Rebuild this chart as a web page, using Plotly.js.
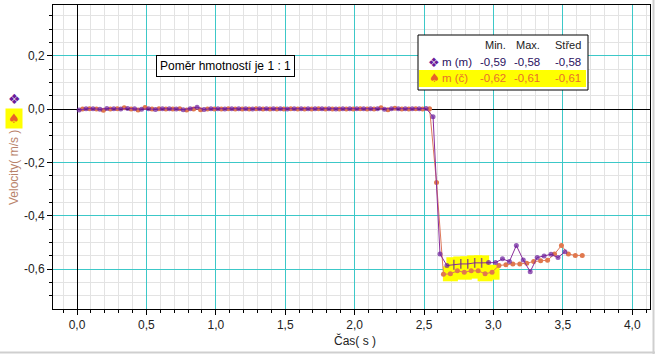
<!DOCTYPE html>
<html>
<head>
<meta charset="utf-8">
<script src="https://cdn.plot.ly/plotly-3.0.1.min.js"></script>
<style>html,body{margin:0;padding:0;background:#fff;}#chart{width:655px;height:354px;}</style>
</head>
<body>
<div id="chart"></div>
<script>
// ---- data ----
const timePurple = [0.015,0.065,0.115,0.165,0.215,0.265,0.315,0.365,0.415,0.465,
  0.515,0.565,0.615,0.665,0.715,0.765,0.815,0.865,0.915,0.965,
  1.015,1.065,1.115,1.165,1.215,1.265,1.315,1.365,1.415,1.465,
  1.515,1.565,1.615,1.665,1.715,1.765,1.815,1.865,1.915,1.965,
  2.015,2.065,2.115,2.165,2.215,2.265,2.315,2.365,2.415,2.465,
  2.515,2.565,2.615,2.665,2.715,2.765,2.815,2.865,2.915,2.965,
  3.015,3.065,3.115,3.165,3.215,3.265,3.315,3.365,3.415,3.465,3.515];
const velPurple = [-0.003,0.002,0.002,0.000,0.003,0.002,0.001,0.003,0.002,0.000,
  0.002,-0.001,0.002,0.002,0.001,-0.002,0.002,0.008,-0.001,0.002,
  0.002,0.001,0.002,0.002,0.002,0.001,0.002,0.002,0.002,0.002,
  0.001,0.002,0.002,0.002,0.002,0.002,0.002,0.001,0.002,0.002,
  0.002,0.002,0.002,0.002,0.000,0.002,0.002,0.002,0.002,0.002,
  0.003,-0.028,-0.543,-0.586,-0.583,-0.580,-0.580,-0.576,-0.576,-0.575,
  -0.575,-0.561,-0.571,-0.511,-0.565,-0.609,-0.556,-0.550,-0.544,-0.556,-0.534];
const timeOrange = [0.04,0.09,0.14,0.19,0.24,0.29,0.34,0.39,0.44,0.49,
  0.54,0.59,0.64,0.69,0.74,0.79,0.84,0.89,0.94,0.99,
  1.04,1.09,1.14,1.19,1.24,1.29,1.34,1.39,1.44,1.49,
  1.54,1.59,1.64,1.69,1.74,1.79,1.84,1.89,1.94,1.99,
  2.04,2.09,2.14,2.19,2.24,2.29,2.34,2.39,2.44,2.49,
  2.54,2.59,2.64,2.69,2.74,2.79,2.84,2.89,2.94,2.99,
  3.04,3.09,3.14,3.19,3.24,3.29,3.34,3.39,3.44,3.49,3.54,3.59,3.64];
const velOrange = [0.001,0.002,0.001,-0.004,0.001,0.002,0.006,0.001,-0.003,0.007,
  0.001,0.002,0.001,0.001,0.002,-0.003,0.001,-0.002,0.001,0.001,
  0.001,0.002,0.001,0.001,0.001,0.002,0.001,0.001,0.001,0.001,
  0.002,0.001,0.001,0.001,0.002,0.001,0.001,0.001,0.001,0.001,
  0.002,0.001,0.001,0.006,-0.002,0.004,0.001,0.001,0.002,0.001,
  0.002,-0.275,-0.619,-0.617,-0.606,-0.611,-0.606,-0.606,-0.617,-0.611,
  -0.586,-0.583,-0.580,-0.580,-0.577,-0.571,-0.568,-0.566,-0.543,-0.511,-0.543,-0.548,-0.548];
// selected (highlighted) sample indices
const selOrange = [53,54,55,56,57,58,59];
const selPurple = [54,55,56,57,58];

const xTickVals = [0,0.5,1,1.5,2,2.5,3,3.5,4];
const xTickText = ['0,0','0,5','1,0','1,5','2,0','2,5','3,0','3,5','4,0'];
const yTickVals = [-0.6,-0.4,-0.2,0,0.2];
const yTickText = ['-0,6','-0,4','-0,2','0,0','0,2'];

const seriesNames = ['m (m)','m (č)'];
const statHeaders = ['Min.','Max.','Střed'];
const statsPurple = ['-0,59','-0,58','-0,58'];
const statsOrange = ['-0,62','-0,61','-0,61'];
const noteText = 'Poměr hmotností je 1 : 1';
const xTitle = 'Čas( s )';
const yTitle = 'Velocity( m/s )';

// ---- styling ----
const PURPLE = '#6a1b9a', PURPLE_LINE = '#8a2c9c';
const ORANGE = '#e0784e', ORANGE_LINE = '#de7a5c';
const YELLOW = '#ffff00';
const FONT = 'Liberation Sans, Arial, sans-serif';

const L = 53, R = 5, T = 5, B = 45, W = 655, H = 354;
const pw = W - L - R, ph = H - T - B;
const px = x => (x - L) / pw;
const py = y => (H - B - y) / ph;

const hlX = selOrange.map(i => timeOrange[i]).concat(selPurple.map(i => timePurple[i]));
const hlY = selOrange.map(i => velOrange[i]).concat(selPurple.map(i => velPurple[i]));

const pSym = timePurple.map((_, i) => selPurple.includes(i) ? 'line-ns-open' : 'circle');
const pSize = timePurple.map((_, i) => selPurple.includes(i) ? 7 : 5);
const pLW = timePurple.map((_, i) => selPurple.includes(i) ? 1.5 : 0);

const traces = [
  {x: hlX, y: hlY, mode: 'markers', type: 'scatter', hoverinfo: 'skip',
   marker: {symbol: 'square', size: 15, color: YELLOW, line: {width: 0}}},
  {x: timeOrange, y: velOrange, mode: 'lines+markers', type: 'scatter', name: seriesNames[1],
   line: {color: ORANGE_LINE, width: 1}, marker: {symbol: 'circle', size: 5, color: ORANGE}},
  {x: timePurple, y: velPurple, mode: 'lines+markers', type: 'scatter', name: seriesNames[0],
   line: {color: PURPLE_LINE, width: 1},
   marker: {symbol: pSym, size: pSize, color: PURPLE, line: {color: '#3a0d5a', width: pLW}}}
];

const ann = (x, y, text, opts) => Object.assign({
  xref: 'paper', yref: 'paper', x: px(x), y: py(y), text: text, showarrow: false,
  xanchor: 'center', yanchor: 'middle', borderpad: 0, font: {family: FONT, size: 12, color: '#222'}
}, opts || {});

const colR = [507, 541, 582];
const LF = 11.5;
const annotations = [
  ann(14, 168, yTitle, {textangle: -90, font: {family: FONT, size: 12, color: '#b8826a'}}),
  ann(14, 99, '❖', {font: {family: 'DejaVu Sans', size: 14, color: PURPLE}}),
  ann(14, 118, '♠', {bgcolor: YELLOW, borderpad: 2, font: {family: 'DejaVu Sans', size: 13, color: '#e8602a'}}),
  ann(355, 341, xTitle, {font: {family: FONT, size: 12, color: '#222'}}),
  ann(225.5, 65.5, noteText, {bgcolor: '#ffffff', bordercolor: '#000', borderwidth: 1, borderpad: 3,
      font: {family: FONT, size: 12, color: '#000'}}),
  ann(434, 62, '❖', {font: {family: 'DejaVu Sans', size: 13, color: PURPLE}}),
  ann(434, 78, '♠', {font: {family: 'DejaVu Sans', size: 12, color: '#e8602a'}}),
  ann(441, 62, seriesNames[0], {xanchor: 'left', font: {family: FONT, size: LF, color: '#2a1060'}}),
  ann(441, 78, seriesNames[1], {xanchor: 'left', font: {family: FONT, size: LF, color: '#e8702a'}})
];
statHeaders.forEach((t, i) => annotations.push(ann(colR[i], 45, t, {xanchor: 'right', font: {family: FONT, size: 11, color: '#222'}})));
statsPurple.forEach((t, i) => annotations.push(ann(colR[i], 62, t, {xanchor: 'right', font: {family: FONT, size: LF, color: '#2a1060'}})));
statsOrange.forEach((t, i) => annotations.push(ann(colR[i], 78, t, {xanchor: 'right', font: {family: FONT, size: LF, color: '#e8702a'}})));

const shapes = [
  {type: 'rect', xref: 'paper', yref: 'paper', x0: px(418), x1: px(588), y0: py(35), y1: py(90),
   fillcolor: '#ffffff', line: {color: '#000', width: 1}, layer: 'above'},
  {type: 'rect', xref: 'paper', yref: 'paper', x0: px(419), x1: px(586), y0: py(70), y1: py(87),
   fillcolor: YELLOW, line: {width: 0}, layer: 'above'},
  {type: 'line', xref: 'paper', yref: 'paper', x0: px(0), x1: px(655), y0: py(352.5), y1: py(352.5),
   line: {color: '#cfcfcf', width: 2}},
  {type: 'line', xref: 'paper', yref: 'paper', x0: px(653.5), x1: px(653.5), y0: py(0), y1: py(354),
   line: {color: '#cfcfcf', width: 2}}
];

const axisCommon = {
  showline: true, mirror: true, linecolor: '#000', linewidth: 1,
  ticks: 'outside', ticklen: 5, tickcolor: '#000', tickwidth: 1,
  gridcolor: '#3cc8c8', gridwidth: 1,
  zeroline: true, zerolinecolor: '#000', zerolinewidth: 1,
  tickfont: {family: FONT, size: 12, color: '#222'}
};

const layout = {
  width: W, height: H,
  margin: {l: L, r: R, t: T, b: B, pad: 0},
  paper_bgcolor: '#ffffff', plot_bgcolor: '#ffffff',
  showlegend: false,
  xaxis: Object.assign({}, axisCommon, {
    range: [-0.173, 4.128], tickmode: 'array', tickvals: xTickVals, ticktext: xTickText,
    minor: {tick0: 0, dtick: 0.1, showgrid: true, gridcolor: '#e3e3e3', ticks: 'outside', ticklen: 3, tickcolor: '#000'}
  }),
  yaxis: Object.assign({}, axisCommon, {
    range: [-0.749, 0.391], tickmode: 'array', tickvals: yTickVals, ticktext: yTickText,
    minor: {tick0: 0, dtick: 0.05, showgrid: true, gridcolor: '#e3e3e3', ticks: 'outside', ticklen: 3, tickcolor: '#000'}
  }),
  annotations: annotations,
  shapes: shapes
};

Plotly.newPlot('chart', traces, layout, {displayModeBar: false, staticPlot: true});
</script>
</body>
</html>
